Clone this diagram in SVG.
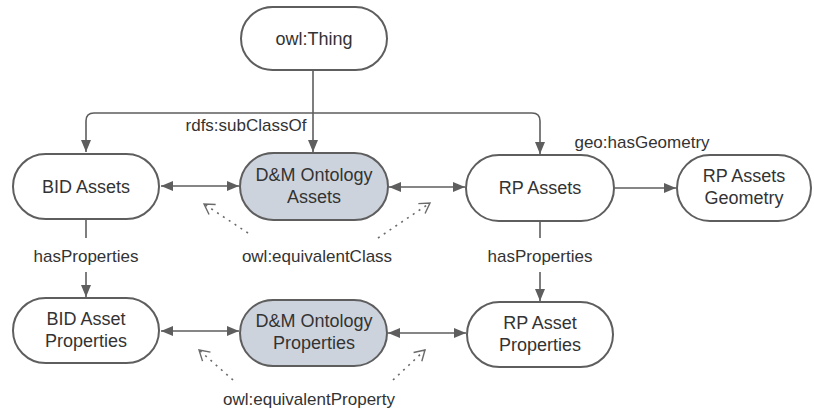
<svg xmlns="http://www.w3.org/2000/svg" width="814" height="413" viewBox="0 0 814 413">
  <style>
    .node rect { fill: #ffffff; stroke: #5e5e5e; stroke-width: 2; }
    .node.shared rect { fill: #cdd3dc; }
    text { font-family: "Liberation Sans", Arial, sans-serif; font-size: 17px; fill: #333333; text-anchor: middle; dominant-baseline: central; }
    .node text { font-size: 18px; }
    .edge { fill: none; stroke: #5e5e5e; stroke-width: 1.6; }
    .equiv { fill: none; stroke: #6a6a6a; stroke-width: 1.6; stroke-dasharray: 2 5; }
  </style>
  <defs>
    <marker id="head" markerUnits="userSpaceOnUse" markerWidth="13" markerHeight="11" refX="12" refY="5.5" orient="auto-start-reverse">
      <path d="M0,0.5 L12,5.5 L0,10.5 Z" fill="#5e5e5e"/>
    </marker>
    <marker id="open" markerUnits="userSpaceOnUse" markerWidth="14" markerHeight="14" refX="11" refY="7" orient="auto">
      <path d="M1,1 L11,7 L1,13" fill="none" stroke="#6a6a6a" stroke-width="1.4"/>
    </marker>
  </defs>

  <!-- connectors -->
  <g id="connectors">
    <!-- rdfs:subClassOf tree -->
    <path class="edge" d="M313,70 V113"/>
    <path class="edge" d="M313,113 H94 Q86,113 86,121 V152" marker-end="url(#head)"/>
    <path class="edge" d="M313,113 V152" marker-end="url(#head)"/>
    <path class="edge" d="M313,113 H532 Q540,113 540,121 V154" marker-end="url(#head)"/>
    <!-- asset equivalences -->
    <path class="edge" d="M161,186 H239" marker-start="url(#head)" marker-end="url(#head)"/>
    <path class="edge" d="M389,187 H465" marker-start="url(#head)" marker-end="url(#head)"/>
    <!-- geo:hasGeometry -->
    <path class="edge" d="M615,188 H676" marker-end="url(#head)"/>
    <!-- hasProperties -->
    <path class="edge" d="M86,219 V238"/>
    <path class="edge" d="M86,272 V297" marker-end="url(#head)"/>
    <path class="edge" d="M540,221 V238"/>
    <path class="edge" d="M540,272 V301" marker-end="url(#head)"/>
    <!-- property equivalences -->
    <path class="edge" d="M161,331 H239" marker-start="url(#head)" marker-end="url(#head)"/>
    <path class="edge" d="M388,333 H466" marker-start="url(#head)" marker-end="url(#head)"/>
    <!-- dotted equivalence pointers -->
    <path class="equiv" d="M248,233 L204,204" marker-end="url(#open)"/>
    <path class="equiv" d="M378,238 L430,203" marker-end="url(#open)"/>
    <path class="equiv" d="M233,380 L199,350" marker-end="url(#open)"/>
    <path class="equiv" d="M393,380 L425,350" marker-end="url(#open)"/>
  </g>

  <!-- connector labels -->
  <g id="labels">
    <text x="246" y="125">rdfs:subClassOf</text>
    <text x="642" y="142">geo:hasGeometry</text>
    <text x="86" y="256">hasProperties</text>
    <text x="540" y="256">hasProperties</text>
    <text x="317" y="256">owl:equivalentClass</text>
    <text x="309" y="399">owl:equivalentProperty</text>
  </g>

  <!-- nodes -->
  <g id="owl-thing" class="node">
    <rect x="241" y="7" width="146" height="63" rx="31.5"/>
    <text x="314" y="39">owl:Thing</text>
  </g>
  <g id="bid-assets" class="node">
    <rect x="13" y="154" width="146" height="65" rx="32.5"/>
    <text x="86" y="187">BID Assets</text>
  </g>
  <g id="dm-assets" class="node shared">
    <rect x="240" y="153" width="148" height="67" rx="33.5"/>
    <text x="314" y="175">D&amp;M Ontology</text>
    <text x="314" y="197">Assets</text>
  </g>
  <g id="rp-assets" class="node">
    <rect x="466" y="155" width="148" height="66" rx="33"/>
    <text x="540" y="188">RP Assets</text>
  </g>
  <g id="rp-geometry" class="node">
    <rect x="677" y="155" width="134" height="66" rx="33"/>
    <text x="744" y="176">RP Assets</text>
    <text x="744" y="198">Geometry</text>
  </g>
  <g id="bid-properties" class="node">
    <rect x="13" y="298" width="146" height="65" rx="32.5"/>
    <text x="86" y="319">BID Asset</text>
    <text x="86" y="341">Properties</text>
  </g>
  <g id="dm-properties" class="node shared">
    <rect x="240" y="300" width="147" height="66" rx="33"/>
    <text x="314" y="321">D&amp;M Ontology</text>
    <text x="314" y="343">Properties</text>
  </g>
  <g id="rp-properties" class="node">
    <rect x="467" y="302" width="146" height="65" rx="32.5"/>
    <text x="540" y="323">RP Asset</text>
    <text x="540" y="345">Properties</text>
  </g>
</svg>
